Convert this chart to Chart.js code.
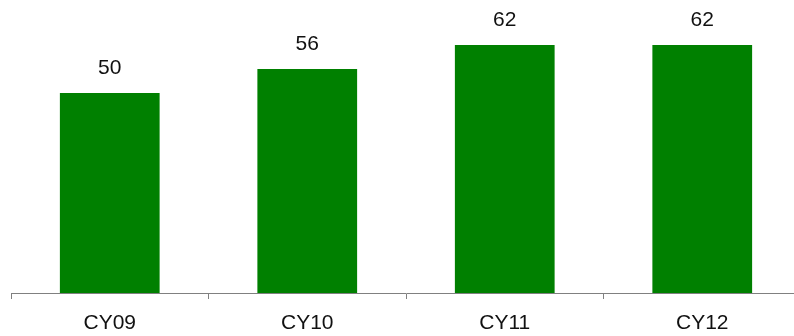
<!DOCTYPE html>
<html>
<head>
<meta charset="utf-8">
<script src="https://cdn.jsdelivr.net/npm/chart.js@4.4.1/dist/chart.umd.min.js"></script>
<style>
  html, body { margin: 0; padding: 0; background: #fff; overflow: hidden; }
</style>
</head>
<body>
<canvas id="cyChart" width="801" height="336"></canvas>
<script>
const categories = ['CY09', 'CY10', 'CY11', 'CY12'];
const values = [50, 56, 62, 62];

// writes the value above each bar
const valueLabels = {
  id: 'valueLabels',
  afterDatasetsDraw(chart) {
    const ctx = chart.ctx;
    const meta = chart.getDatasetMeta(0);
    ctx.save();
    ctx.font = '21px "Liberation Sans", Arial, sans-serif';
    ctx.fillStyle = '#111';
    ctx.textAlign = 'center';
    ctx.textBaseline = 'middle';
    meta.data.forEach(function(bar, i) {
      ctx.fillText(values[i], bar.x, bar.y - 25);
    });
    ctx.restore();
  }
};

const ctx = document.getElementById('cyChart').getContext('2d');
new Chart(ctx, {
  type: 'bar',
  data: {
    labels: categories,
    datasets: [{
      data: values,
      backgroundColor: '#008000',
      barPercentage: 1,
      categoryPercentage: 0.505
    }]
  },
  options: {
    responsive: false,
    animation: false,
    layout: { padding: { left: 11, right: 0, top: 1, bottom: 0 } },
    plugins: {
      legend: { display: false },
      tooltip: { enabled: false }
    },
    scales: {
      x: {
        grid: {
          drawOnChartArea: false,
          drawTicks: true,
          tickLength: 6,
          color: '#808080'
        },
        border: { color: '#808080', width: 1 },
        ticks: {
          padding: 12,
          color: '#111',
          font: { family: '"Liberation Sans", Arial, sans-serif', size: 21 }
        },
        afterFit(scale) {
          scale.height = 43;
        }
      },
      y: {
        display: false,
        min: 0,
        max: 73
      }
    }
  },
  plugins: [valueLabels]
});
</script>
</body>
</html>
